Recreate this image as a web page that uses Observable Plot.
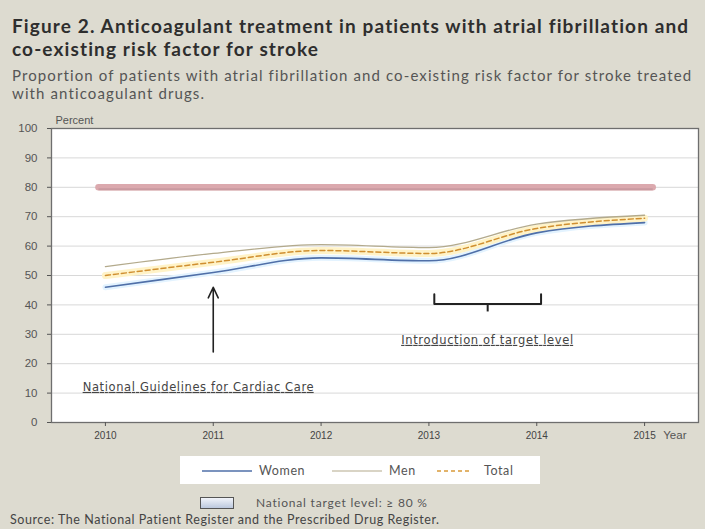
<!DOCTYPE html>
<html>
<head>
<meta charset="utf-8">
<script src="https://cdn.jsdelivr.net/npm/d3@7"></script>
<script src="https://cdn.jsdelivr.net/npm/@observablehq/plot@0.6"></script>
<style>
  html, body { margin: 0; padding: 0; }
  body { width: 705px; height: 529px; overflow: hidden; position: relative; background: #dddbd0; font-family: Lato, "Liberation Sans", sans-serif; }
  .ln { display: inline-block; white-space: nowrap; }
  #title { position: absolute; left: 12px; top: 14px; font-weight: bold; font-size: 19px; line-height: 23px; color: #2e2e2e; white-space: nowrap; }
  #subtitle { position: absolute; left: 12px; top: 66px; font-size: 15px; line-height: 18px; color: #555; white-space: nowrap; }
  #chart { position: absolute; left: 0; top: 108px; }
  #legend { position: absolute; left: 180px; top: 456px; width: 360px; height: 28px; background: #fff; font-size: 12.5px; color: #555; }
  .li { position: absolute; top: 7px; display: flex; align-items: center; gap: 7px; letter-spacing: 0.6px; }
  #target { position: absolute; left: 200px; top: 495px; display: flex; align-items: center; gap: 22px; font-size: 12px; color: #555; }
  #source { position: absolute; left: 10px; top: 512px; font-size: 12.5px; color: #444; white-space: nowrap; }
</style>
</head>
<body>
<div id="title"><span class="ln" id="t1">Figure 2. Anticoagulant treatment in patients with atrial fibrillation and</span><br><span class="ln" id="t2">co-existing risk factor for stroke</span></div>
<div id="subtitle"><span class="ln" id="s1">Proportion of patients with atrial fibrillation and co-existing risk factor for stroke treated</span><br><span class="ln" id="s2">with anticoagulant drugs.</span></div>
<div id="chart"></div>
<div id="legend">
  <div class="li" style="left:22px"><svg width="50" height="10"><line x1="0" x2="50" y1="5" y2="5" stroke="#4f6fa8" stroke-width="1.6"/></svg><span>Women</span></div>
  <div class="li" style="left:152px"><svg width="50" height="10"><line x1="0" x2="50" y1="5" y2="5" stroke="#b3aa8c" stroke-width="1.2"/></svg><span>Men</span></div>
  <div class="li" style="left:257px"><svg width="34" height="10"><line x1="0" x2="34" y1="5" y2="5" stroke="#d99a3a" stroke-width="1.4" stroke-dasharray="4,3"/></svg><span style="margin-left:6px">Total</span></div>
</div>
<div id="target"><svg width="34" height="12"><defs><linearGradient id="tg" x1="0" x2="0" y1="0" y2="1"><stop offset="0" stop-color="#f4f6fb"/><stop offset="1" stop-color="#b9c6dc"/></linearGradient></defs><rect x="0.5" y="0.5" width="33" height="11" fill="url(#tg)" stroke="#555" stroke-width="1"/></svg><span class="ln" id="tt">National target level: ≥ 80 %</span></div>
<div id="source"><span class="ln" id="src">Source: The National Patient Register and the Prescribed Drug Register.</span></div>
<script>
// Data
const years = [2010, 2011, 2012, 2013, 2014, 2015];
const women = [46, 51, 56, 55, 64.5, 68];
const men   = [53, 57.5, 60.5, 59.5, 67.5, 70.5];
const total = [50, 54.5, 58.5, 57.5, 66, 69.5];
const targetLevel = 80;
const yTicks = [0, 10, 20, 30, 40, 50, 60, 70, 80, 90, 100];

// Annotations (data units)
const guidelineYear = 2011;
const guidelineArrow = {y1: 24, y2: 46};
const guidelineText = "National Guidelines for Cardiac Care";
const targetIntroText = "Introduction of target level";
const bracket = {x1: 2013.05, x2: 2014.04, y: 40.3, top: 43.6, mid: 37.6};

// fit text widths (letter-spacing) to the reference's text extents
function fit(id, width) {
  const el = document.getElementById(id);
  const w = el.getBoundingClientRect().width;
  const n = el.textContent.length;
  const ls = (width - w) / n;
  el.style.letterSpacing = ls + "px";
  return ls;
}
const lsT = fit("t1", 678);
document.getElementById("t2").style.letterSpacing = lsT + "px";
const lsS = fit("s1", 681);
document.getElementById("s2").style.letterSpacing = lsS + "px";
fit("tt", 172);
fit("src", 430);

const series = [
  {name: "Women", values: women},
  {name: "Men", values: men},
  {name: "Total", values: total}
];
const rows = series.flatMap(s => years.map((y, i) => ({series: s.name, year: y, value: s.values[i]})));
const W = rows.filter(d => d.series === "Women");
const M = rows.filter(d => d.series === "Men");
const T = rows.filter(d => d.series === "Total");
const bx = (bracket.x1 + bracket.x2) / 2;
const bracketPath = [
  {x: bracket.x1, y: bracket.top}, {x: bracket.x1, y: bracket.y},
  {x: bracket.x2, y: bracket.y}, {x: bracket.x2, y: bracket.top}
];

const curve = "monotone-x";
const chart = Plot.plot({
  width: 705,
  height: 342,
  marginTop: 20,
  marginBottom: 28,
  marginLeft: 51,
  marginRight: 7,
  style: {background: "transparent", fontFamily: "'Liberation Sans', Arial, sans-serif"},
  x: {domain: [2009.5, 2015.5], axis: null},
  y: {domain: [0, 100], axis: null},
  marks: [
    Plot.frame({fill: "#fff"}),
    Plot.gridY(yTicks.filter(t => t > 0 && t < 100), {stroke: "#d8d8d8", strokeOpacity: 1}),
    Plot.frame({stroke: "#6e6e6e", strokeWidth: 1.3}),
    Plot.axisY(yTicks, {tickSize: 4, tickPadding: 10, fontSize: 11.5, fill: "#555", stroke: "#555", label: null}),
    Plot.axisX(years, {tickSize: 4, tickPadding: 5, fontSize: 10, fill: "#444", stroke: "#555", tickFormat: d => String(d), label: null}),
    Plot.text(["Percent"], {frameAnchor: "top-left", dx: 4, dy: -12, fontSize: 11, fill: "#555", textAnchor: "start"}),
    Plot.text(["Year"], {frameAnchor: "bottom-right", dx: -12, dy: 16, fontSize: 11.5, fill: "#555"}),
    // target level
    Plot.ruleY([targetLevel], {x1: 2009.94, x2: 2015.08, stroke: "#dba9ae", strokeWidth: 6.5, strokeLinecap: "round"}),
    Plot.ruleY([targetLevel], {x1: 2009.94, x2: 2015.08, stroke: "#c99aa0", strokeWidth: 2, dy: 2}),
    // glows
    Plot.line(W, {x: "year", y: "value", curve, stroke: "#e3f3ff", strokeWidth: 6}),
    Plot.line(T, {x: "year", y: "value", curve, stroke: "#fff3c8", strokeWidth: 7}),
    // series
    Plot.line(M, {x: "year", y: "value", curve, stroke: "#b3aa8c", strokeWidth: 1.3}),
    Plot.line(W, {x: "year", y: "value", curve, stroke: "#4f6fa8", strokeWidth: 1.6}),
    Plot.line(T, {x: "year", y: "value", curve, stroke: "#d08f30", strokeWidth: 1.5, strokeDasharray: "5,3"}),
    // annotations
    Plot.arrow([guidelineArrow], {x1: guidelineYear, x2: guidelineYear, y1: "y1", y2: "y2", stroke: "#222", strokeWidth: 1.6, headLength: 11, headAngle: 50}),
    Plot.line(bracketPath, {x: "x", y: "y", stroke: "#222", strokeWidth: 2}),
    Plot.ruleX([bx], {y1: bracket.y, y2: bracket.mid, stroke: "#222", strokeWidth: 2}),
    Plot.text([guidelineText], {x: 2010.86, y: 12, fontSize: 11.5, fill: "#444", fontFamily: "'DejaVu Sans', sans-serif"}),
    Plot.text([targetIntroText], {x: 2013.54, y: 28, fontSize: 11.5, fill: "#444", fontFamily: "'DejaVu Sans', sans-serif"})
  ]
});
d3.select(chart).selectAll("text")
  .filter(function() { return this.textContent === guidelineText || this.textContent === targetIntroText; })
  .style("text-decoration", "underline")
  .attr("lengthAdjust", "spacing")
  .attr("textLength", function() { return this.textContent === guidelineText ? 231 : 172; });
document.getElementById("chart").appendChild(chart);
</script>
</body>
</html>
